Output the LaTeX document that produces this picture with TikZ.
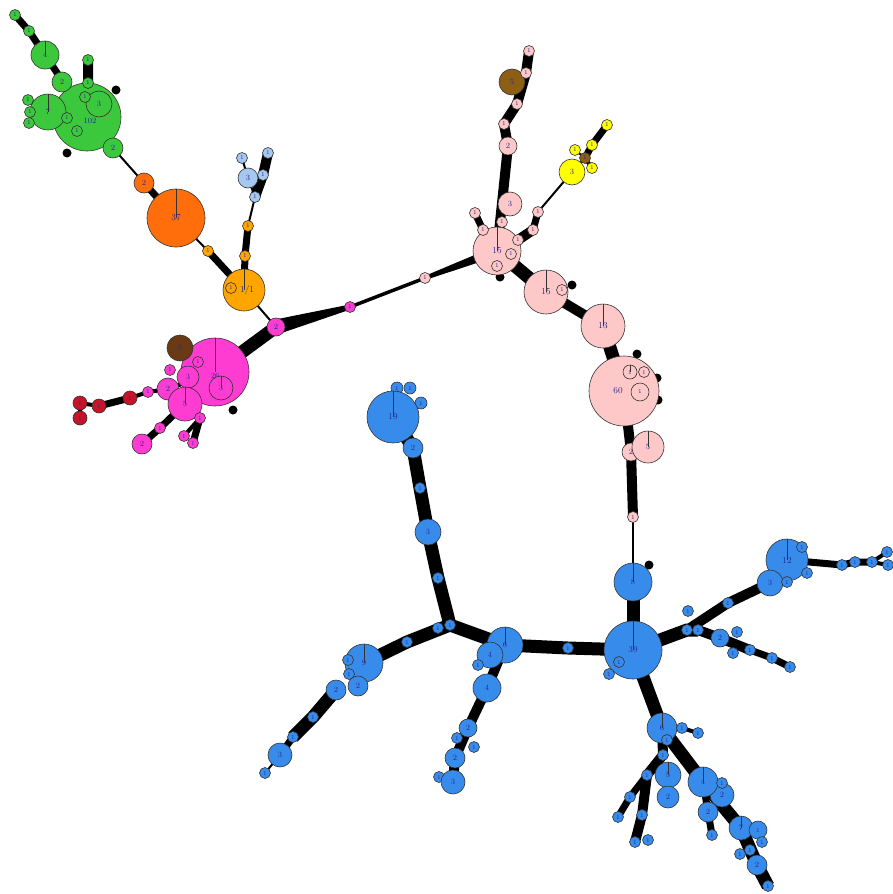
\documentclass[tikz,border=0pt]{standalone}
\usetikzlibrary{backgrounds,calc}
\definecolor{grn}{RGB}{60,200,60}
\definecolor{org}{RGB}{255,110,10}
\definecolor{ora}{RGB}{255,165,0}
\definecolor{lbl}{RGB}{165,200,240}
\definecolor{mag}{RGB}{255,60,210}
\definecolor{brn}{RGB}{105,58,20}
\definecolor{olv}{RGB}{140,95,20}
\definecolor{rd}{RGB}{200,20,40}
\definecolor{pnk}{RGB}{255,200,200}
\definecolor{yel}{RGB}{255,255,0}
\definecolor{blu}{RGB}{55,140,235}
\definecolor{lab}{RGB}{40,40,150}
\tikzset{
  nd/.style={circle,draw=black!80,line width=0.6pt,inner sep=0pt,text=lab,font=\fontsize{8}{8}\selectfont},
  sm/.style={nd,minimum size=11pt,font=\fontsize{6}{6}\selectfont},
  tn/.style={font=\fontsize{6}{6}\selectfont},
  bg/.style={font=\fontsize{9}{9}\selectfont},
  blob/.style={circle,fill=black,inner sep=0pt,minimum size=9pt},
  pie/.style={path picture={\draw[line width=0.5pt,draw=black!80] (path picture bounding box.north) -- (path picture bounding box.center);}},
  wa/.style={line width=2pt},
  wb/.style={line width=4pt},
  wc/.style={line width=7pt},
  wd/.style={line width=10pt},
  we/.style={line width=13pt},
}
\begin{document}
\begin{tikzpicture}[x=1pt,y=-1pt]
\useasboundingbox (0,0) rectangle (893,894);
% ---------------- green
\node[sm,fill=grn] (g1) at (15,15) {1};
\node[sm,fill=grn] (g1b) at (29,31) {1};
\node[nd,fill=grn,minimum size=28pt,pie] (g4) at (45,55) {4};
\node[nd,fill=grn,minimum size=68pt,label={[text=lab,font=\fontsize{8}{8}\selectfont,xshift=3pt,yshift=-4pt]center:102}] (gB) at (87,117) {};
\node[nd,fill=grn,minimum size=36pt,pie] (g7) at (48,112) {7};
\node[nd,fill=grn,minimum size=20pt] (g2) at (62,82) {2};
\node[sm,fill=grn] (gt1) at (88,60) {1};
\node[sm,fill=grn] (gt2) at (88,83) {1};
\node[nd,fill=grn,minimum size=26pt] (g3) at (99,104) {3};
\node[sm,fill=grn] (gt3) at (85,97) {1};
\node[sm,fill=grn] (gl1) at (28,100) {1};
\node[sm,fill=grn] (gl2) at (30,112) {1};
\node[sm,fill=grn] (gl3) at (29,123) {1};
\node[sm,fill=grn] (gi1) at (67,118) {1};
\node[sm,fill=grn] (gi2) at (77,131) {1};
\node[nd,fill=grn,minimum size=20pt] (g2b) at (113,148) {2};
% ---------------- orange
\node[nd,fill=org,minimum size=20pt] (o2) at (144,183) {2};
\node[nd,fill=org,minimum size=58pt,pie,bg] (o37) at (176,218) {37};
\node[sm,fill=ora] (o1) at (208,251) {1};
\node[nd,fill=ora,minimum size=42pt,pie,bg] (o11) at (244,290) {\ \ 1/1};
\node[sm,fill=ora] (o11s) at (231,288) {1};
\node[sm,fill=ora] (lo1) at (248,226) {1};
\node[sm,fill=ora] (lo2) at (245,256) {1};
% ---------------- light blue
\node[sm,fill=lbl] (lb1) at (242,158) {1};
\node[nd,fill=lbl,minimum size=20pt] (lb3) at (248,178) {3};
\node[sm,fill=lbl] (lb2) at (268,153) {1};
\node[sm,fill=lbl] (lb4) at (263,175) {1};
\node[sm,fill=lbl] (lb5) at (255,197) {1};
% ---------------- magenta
\node[nd,fill=mag,minimum size=18pt] (m2) at (276,327) {2};
\node[sm,fill=mag] (m1) at (350,307) {1};
\node[nd,fill=mag,minimum size=68pt,pie,label={[text=lab,font=\fontsize{8}{8}\selectfont,yshift=-4pt]center:26}] (mB) at (215,372) {};
\node[nd,fill=brn,minimum size=26pt] (mbr) at (180,348) {5};
\node[sm,fill=mag] (m1a) at (198,362) {1};
\node[sm,fill=mag] (m1b) at (170,370) {1};
\node[nd,fill=mag,minimum size=22pt] (m3a) at (188,377) {3};
\node[nd,fill=mag,minimum size=22pt] (m2a) at (168,389) {2};
\node[nd,fill=mag,minimum size=34pt,pie] (m5) at (185,404) {5};
\node[nd,fill=mag,minimum size=24pt,pie] (m3b) at (221,388) {3};
\node[sm,fill=mag] (m1c) at (148,392) {1};
\node[sm,fill=mag] (m1d) at (200,418) {1};
\node[sm,fill=mag] (m1e) at (160,428) {1};
\node[nd,fill=mag,minimum size=20pt] (m2b) at (142,444) {2};
\node[sm,fill=mag] (m1f) at (184,436) {1};
\node[sm,fill=mag] (m1g) at (193,443) {1};
\node[nd,fill=rd,minimum size=14pt,tn] (r1) at (130,398) {1};
\node[nd,fill=rd,minimum size=14pt,tn] (r2) at (99,406) {1};
\node[nd,fill=rd,minimum size=14pt,tn] (r3) at (80,403) {1};
\node[nd,fill=rd,minimum size=14pt,tn] (r4) at (80,418) {1};
% ---------------- pink
\node[sm,fill=pnk] (p1) at (425,278) {1};
\node[nd,fill=pnk,minimum size=48pt,pie,bg] (P15) at (497,251) {15};
\node[sm,fill=pnk] (ps1) at (511,254) {1};
\node[sm,fill=pnk] (ps2) at (497,266) {1};
\node[nd,fill=pnk,minimum size=24pt] (p3) at (510,204) {3};
\node[nd,fill=pnk,minimum size=18pt] (p2) at (508,146) {2};
\node[sm,fill=pnk] (pt1) at (504,124) {1};
\node[sm,fill=pnk] (pt2) at (517,104) {1};
\node[nd,fill=olv,minimum size=26pt] (pbr) at (512,82) {5};
\node[sm,fill=pnk] (pt3) at (526,73) {1};
\node[sm,fill=pnk] (pt4) at (529,51) {1};
\node[sm,fill=pnk] (pl1) at (475,213) {1};
\node[sm,fill=pnk] (pl2) at (483,230) {1};
\node[sm,fill=pnk] (pr1) at (538,212) {1};
\node[sm,fill=pnk] (pr2) at (533,230) {1};
\node[sm,fill=pnk] (pr3) at (518,240) {1};
\node[sm,fill=pnk] (pr4) at (502,222) {1};
\node[nd,fill=yel,minimum size=26pt] (y3) at (572,172) {3};
\node[sm,fill=yel] (y1) at (575,150) {1};
\node[sm,fill=olv] (ybr) at (585,158) {1};
\node[sm,fill=yel] (y2) at (592,145) {1};
\node[sm,fill=yel] (y4) at (592,168) {1};
\node[sm,fill=yel] (y5) at (607,125) {1};
\node[nd,fill=pnk,minimum size=44pt,pie,bg] (P15b) at (546,292) {15};
\node[sm,fill=pnk] (pb1) at (562,290) {1};
\node[nd,fill=pnk,minimum size=44pt,pie,bg] (P13) at (603,326) {13};
\node[nd,fill=pnk,minimum size=70pt,bg,label={[text=lab,font=\fontsize{9}{9}\selectfont,xshift=-6pt]center:60}] (P60) at (624,391) {};
\node[nd,fill=pnk,minimum size=14pt,tn,pie] (pi1) at (630,372) {1};
\node[sm,fill=pnk] (pi2) at (644,372) {1};
\node[nd,fill=pnk,minimum size=18pt,tn] (pi3) at (640,392) {1};
\node[nd,fill=pnk,minimum size=18pt] (p2c) at (631,452) {2};
\node[nd,fill=pnk,minimum size=32pt,pie] (p5) at (648,447) {5};
\node[sm,fill=pnk] (p1c) at (633,517) {1};
% ---------------- blue
\node[nd,fill=blu,minimum size=38pt,pie] (B8) at (633,582) {8};
\node[nd,fill=blu,minimum size=58pt,pie,bg] (B39) at (633,650) {39};
\node[sm,fill=blu] (b39a) at (619,662) {1};
\node[sm,fill=blu] (b39b) at (609,674) {1};
\node[sm,fill=blu] (b1m) at (568,648) {1};
\node[nd,fill=blu,minimum size=36pt,pie] (B6) at (505,645) {6};
\node[nd,fill=blu,minimum size=26pt] (b4a) at (490,655) {4};
\node[sm,fill=blu] (b1n) at (478,665) {1};
\node[nd,fill=blu,minimum size=28pt] (b4b) at (487,688) {4};
\node[nd,fill=blu,minimum size=18pt] (b2a) at (468,728) {2};
\node[sm,fill=blu] (b1o) at (457,738) {1};
\node[sm,fill=blu] (b1p) at (474,747) {1};
\node[nd,fill=blu,minimum size=20pt] (b2b) at (455,758) {2};
\node[sm,fill=blu] (b1q) at (439,777) {1};
\node[nd,fill=blu,minimum size=24pt] (b3a) at (453,782) {3};
\node[sm,fill=blu] (bj1) at (450,625) {1};
\node[sm,fill=blu] (bj2) at (438,628) {1};
\node[sm,fill=blu] (b1r) at (438,578) {1};
\node[nd,fill=blu,minimum size=26pt] (b3b) at (428,532) {3};
\node[sm,fill=blu] (b1s) at (420,488) {1};
\node[nd,fill=blu,minimum size=20pt] (b2c) at (413,448) {2};
\node[sm,fill=blu,minimum size=12pt] (b19a) at (397,388) {1};
\node[sm,fill=blu,minimum size=12pt] (b19b) at (410,388) {1};
\node[sm,fill=blu,minimum size=12pt] (b19c) at (421,403) {1};
\node[nd,fill=blu,minimum size=52pt,pie,bg] (B19) at (393,417) {19};
\node[sm,fill=blu] (b1t) at (407,642) {1};
\node[nd,fill=blu,minimum size=38pt,pie] (B9) at (364,663) {9};
\node[sm,fill=blu] (b9a) at (348,660) {1};
\node[sm,fill=blu] (b9b) at (349,674) {1};
\node[nd,fill=blu,minimum size=20pt] (b2d) at (358,686) {2};
\node[nd,fill=blu,minimum size=20pt] (b2e) at (336,690) {2};
\node[sm,fill=blu] (b1u) at (313,717) {1};
\node[sm,fill=blu] (b1v) at (293,737) {1};
\node[nd,fill=blu,minimum size=24pt] (b3c) at (280,755) {3};
\node[sm,fill=blu] (b1w) at (265,773) {1};
\node[sm,fill=blu] (br1) at (688,611) {1};
\node[sm,fill=blu] (br2) at (687,630) {1};
\node[sm,fill=blu] (br3) at (698,630) {1};
\node[nd,fill=blu,minimum size=18pt] (b2f) at (720,638) {2};
\node[sm,fill=blu] (br4) at (737,632) {1};
\node[sm,fill=blu] (br5) at (733,653) {1};
\node[sm,fill=blu] (br6) at (750,650) {1};
\node[sm,fill=blu] (br7) at (772,658) {1};
\node[sm,fill=blu] (br8) at (790,667) {1};
\node[sm,fill=blu] (br9) at (728,603) {1};
\node[nd,fill=blu,minimum size=42pt,pie,bg] (B12) at (787,560) {12};
\node[nd,fill=blu,minimum size=26pt] (b3d) at (770,583) {3};
\node[sm,fill=blu] (bq1) at (802,547) {1};
\node[sm,fill=blu] (bq2) at (787,582) {1};
\node[sm,fill=blu] (bq3) at (807,573) {1};
\node[sm,fill=blu] (bq4) at (842,565) {1};
\node[sm,fill=blu] (bq5) at (855,562) {1};
\node[sm,fill=blu] (bq6) at (872,562) {1};
\node[sm,fill=blu] (bq7) at (887,552) {1};
\node[sm,fill=blu] (bq8) at (888,565) {1};
\node[nd,fill=blu,minimum size=30pt,pie] (b6b) at (662,728) {6};
\node[sm,fill=blu] (bd1) at (682,728) {1};
\node[sm,fill=blu] (bd2) at (698,733) {1};
\node[sm,fill=blu] (bd3) at (667,740) {1};
\node[sm,fill=blu] (bd4) at (663,755) {1};
\node[nd,fill=blu,minimum size=26pt,pie] (b5) at (668,775) {5};
\node[nd,fill=blu,minimum size=22pt] (b2g) at (668,797) {2};
\node[nd,fill=blu,minimum size=24pt] (b4c2) at (722,795) {2};
\node[nd,fill=blu,minimum size=30pt,pie] (b4c) at (703,782) {4};
\node[sm,fill=blu] (bd5) at (722,783) {1};
\node[nd,fill=blu,minimum size=20pt] (b2h) at (708,812) {2};
\node[sm,fill=blu] (bd6) at (712,835) {1};
\node[nd,fill=blu,minimum size=24pt,pie] (b7) at (741,828) {7};
\node[nd,fill=blu,minimum size=18pt,tn] (bs1) at (758,830) {1};
\node[sm,fill=blu] (bs2) at (762,842) {1};
\node[sm,fill=blu] (bs3) at (740,854) {1};
\node[sm,fill=blu] (bs4) at (750,850) {1};
\node[nd,fill=blu,minimum size=20pt] (b2i) at (757,865) {2};
\node[sm,fill=blu] (bs5) at (768,886) {1};
\node[sm,fill=blu] (bl1) at (647,775) {1};
\node[sm,fill=blu] (bl2) at (630,797) {1};
\node[sm,fill=blu] (bl3) at (618,817) {1};
\node[sm,fill=blu] (bl4) at (642,815) {1};
\node[sm,fill=blu] (bl5) at (635,842) {1};
\node[sm,fill=blu] (bl6) at (648,840) {1};
% ---------------- edges
\begin{scope}[on background layer]
% black blobs (leaf stubs)
\node[blob] (gk1) at (116,90) {};
\node[blob] (gk2) at (67,153) {};
\node[blob] (mk1) at (233,410) {};
\node[blob] (pk1) at (637,354) {};
\node[blob] (pk2) at (657,378) {};
\node[blob] (pk3) at (658,400) {};
\node[blob] (pk4) at (500,277) {};
\node[blob] (pk5) at (572,285) {};
\node[blob] (b8k) at (649,565) {};
% green / orange
\draw[wc] (g1.center) -- (g1b.center) -- (g4.center) -- (gB.center);
\draw[wd] (gt1.center) -- (gt2.center) -- (gB.center);
\draw[wb] (g7.center) -- (gl1.center) (g7.center) -- (gl2.center) (g7.center) -- (gl3.center);
\draw[wa] (gB.center) -- (g2b.center) -- (o2.center);
\draw[wc] (o2.center) -- (o37.center);
\draw[wa] (o37.center) -- (o1.center);
\draw[wc] (o1.center) -- (o11.center);
\draw[wd] (lb2.center) -- (lb4.center) -- (lb5.center);
\draw[wa] (lb1.center) -- (lb3.center) -- (lb5.center);
\draw[wa] (lb5.center) -- (lo1.center);
\draw[wc] (lo1.center) -- (lo2.center) -- (o11.center);
\draw[wa] (o11.center) -- (m2.center);
% magenta
\draw[we] (m2.center) -- (mB.center);
\fill ($(m2.center)!7.5pt!90:(m1.center)$) -- ($(m1.center)!2.5pt!-90:(m2.center)$)
   -- ($(m1.center)!2.5pt!90:(m2.center)$) -- ($(m2.center)!7.5pt!-90:(m1.center)$) -- cycle;
\draw[line width=3.5pt] (m1.center) -- (p1.center);
\fill ($(p1.center)!2pt!90:(P15.center)$) -- ($(P15.center)!5pt!-90:(p1.center)$)
   -- ($(P15.center)!5pt!90:(p1.center)$) -- ($(p1.center)!2pt!-90:(P15.center)$) -- cycle;
\draw[wb] (mB.center) -- (m2a.center) -- (m1c.center) -- (r1.center);
\draw[wc] (r1.center) -- (r2.center);
\draw[wb] (r2.center) -- (r3.center) -- (r4.center);
\draw[wc] (m5.center) -- (m1e.center) -- (m2b.center);
\draw[wc] (m1d.center) -- (m1g.center);
\draw[wb] (m1d.center) -- (m1f.center);
% pink
\draw[wd] (pt4.center) -- (pt3.center) -- (pt2.center) -- (pt1.center) -- (p2.center) -- (P15.center);
\draw[wb] (pbr.center) -- (pt3.center);
\draw[wc] (P15.center) -- (pl2.center) -- (pl1.center);
\draw[wd] (P15.center) -- (pr3.center) -- (pr2.center);
\draw[wc] (pr2.center) -- (pr1.center);
\draw[wa] (pr1.center) -- (y3.center) -- (ybr.center) -- (y1.center);
\draw[wc] (ybr.center) -- (y2.center) -- (y5.center);
\draw[wb] (ybr.center) -- (y4.center);
\draw[we] (P15.center) -- (P15b.center);
\draw[wd] (P15b.center) -- (P13.center);
\draw[we] (P13.center) -- (P60.center);
\draw[wd] (P60.center) -- (p2c.center) -- (p1c.center);
\draw[line width=1.2pt] (p1c.center) -- (B8.center);
% blue
\draw[we] (B8.center) -- (B39.center);
\draw[we] (B39.center) -- (b1m.center) -- (B6.center);
\draw[we] (B6.center) -- (bj1.center) -- (b1r.center) -- (b3b.center) -- (b1s.center) -- (b2c.center) -- (B19.center);
\draw[we] (bj1.center) -- (b1t.center) -- (B9.center);
\draw[we] (b2e.center) -- (b1u.center) -- (b1v.center);
\draw[wc] (b1v.center) -- (b3c.center);
\draw[wa] (b3c.center) -- (b1w.center);
\draw[wd] (B6.center) -- (b4b.center) -- (b2a.center) -- (b2b.center) -- (b3a.center);
\draw[we] (B39.center) -- (br2.center) -- (br3.center);
\draw[wd] (br2.center) -- (br9.center) -- (b3d.center) -- (B12.center);
\draw[wc] (B12.center) -- (bq4.center) -- (bq5.center) -- (bq6.center);
\draw[wb] (bq6.center) -- (bq7.center) (bq6.center) -- (bq8.center);
\draw[wd] (br3.center) -- (b2f.center) -- (br6.center);
\draw[wc] (br6.center) -- (br7.center) -- (br8.center);
\draw[we] (B39.center) -- (b6b.center);
\draw[wb] (b6b.center) -- (bd1.center) -- (bd2.center);
\draw[we] (b6b.center) -- (b4c.center) -- (b7.center) -- (b2i.center) -- (bs5.center);
\draw[wc] (b4c.center) -- (b2h.center) -- (bd6.center);
\draw[wd] (b6b.center) -- (bd4.center) -- (bl1.center);
\draw[wc] (bl1.center) -- (bl2.center) -- (bl3.center);
\draw[wd] (bl1.center) -- (bl4.center) -- (bl5.center);
\end{scope}
\end{tikzpicture}
\end{document}
